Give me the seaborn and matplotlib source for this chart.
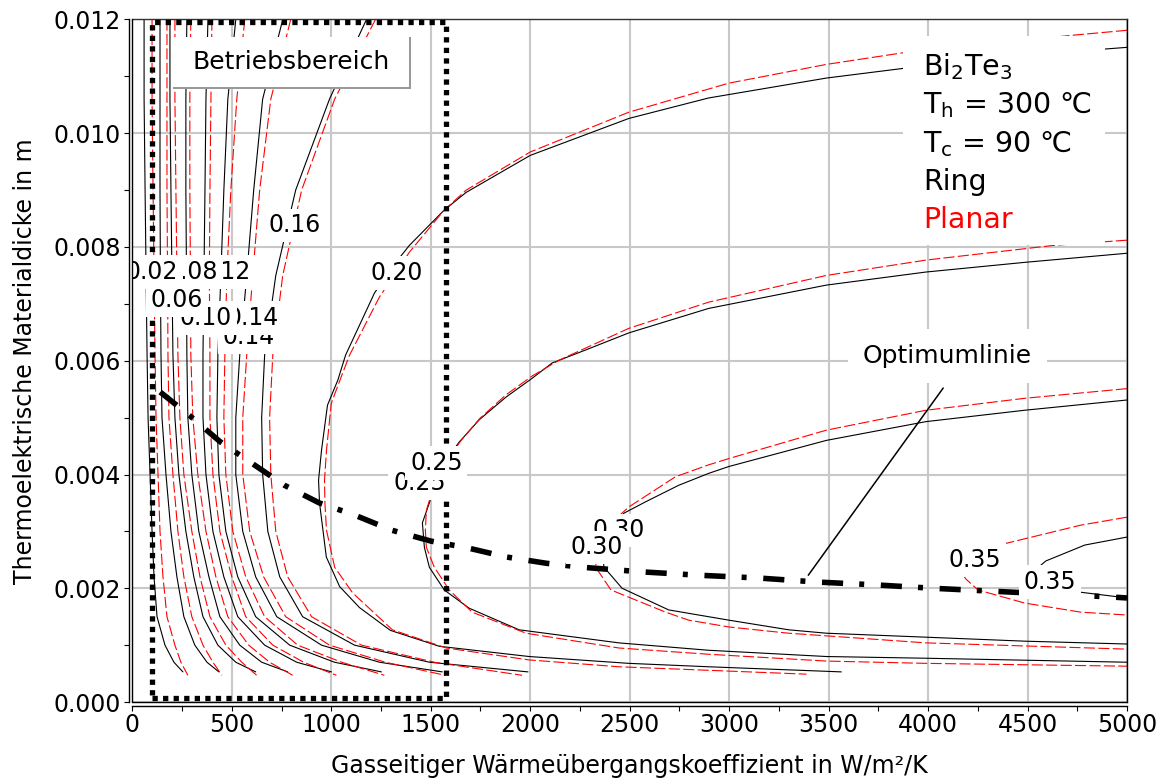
import matplotlib
matplotlib.use("Agg")
import matplotlib.pyplot as plt
from matplotlib.patches import Rectangle
from matplotlib.ticker import MultipleLocator, FormatStrFormatter
import pandas as pd
import seaborn as sns

# h: gas-side heat transfer coefficient in W/m²/K, t: thermoelectric thickness in m

# ---- low-h contour levels, sampled on common thickness rows ----
levels_low = [0.02, 0.04, 0.06, 0.08, 0.10, 0.12, 0.14, 0.16]
t_rows_ring = [0.0120, 0.0106, 0.0090, 0.0075, 0.0061, 0.0050, 0.0040,
               0.0030, 0.0022, 0.0015, 0.0010, 0.0007, 0.00053]
t_rows_planar = [0.0120, 0.0106, 0.0090, 0.0075, 0.0061, 0.0050, 0.0040,
                 0.0030, 0.0022, 0.0015, 0.0010, 0.0007, 0.00047]

ring_h_002 = [59, 59, 64, 69, 74, 79, 89, 99, 109, 124, 164, 209, 254]
ring_h_004 = [139, 139, 139, 141, 144, 149, 169, 194, 224, 259, 314, 375, 435]
ring_h_006 = [189, 189, 194, 199, 204, 214, 234, 269, 309, 355, 430, 520, 620]
ring_h_008 = [274, 269, 269, 272, 274, 279, 299, 334, 385, 440, 540, 650, 781]
ring_h_010 = [380, 370, 365, 360, 355, 355, 370, 405, 460, 530, 665, 826, 1001]
ring_h_012 = [520, 480, 460, 445, 430, 425, 435, 470, 530, 620, 791, 1016, 1252]
ring_h_014 = [756, 655, 610, 575, 540, 520, 520, 555, 620, 726, 951, 1242, 1558]
ring_h_016 = [1177, 991, 821, 721, 665, 650, 655, 681, 741, 856, 1117, 1493, 1989]

planar_h_002 = [99, 99, 104, 109, 114, 119, 129, 139, 154, 174, 214, 244, 279]
planar_h_004 = [174, 174, 174, 177, 179, 184, 204, 229, 259, 299, 355, 405, 450]
planar_h_006 = [214, 214, 219, 224, 229, 239, 259, 299, 340, 390, 470, 550, 625]
planar_h_008 = [294, 289, 289, 292, 294, 304, 329, 370, 420, 480, 585, 690, 806]
planar_h_010 = [400, 395, 390, 387, 390, 390, 405, 440, 500, 570, 706, 861, 1026]
planar_h_012 = [565, 525, 495, 475, 465, 460, 470, 505, 570, 665, 831, 1052, 1267]
planar_h_014 = [796, 696, 640, 605, 575, 555, 555, 590, 660, 771, 991, 1272, 1573]
planar_h_016 = [1222, 1017, 851, 756, 706, 690, 696, 721, 781, 901, 1152, 1518, 1959]

# ---- high levels: U-shaped curves around the optimum ----
ring_h_020 = [5000, 4888, 3875, 3489, 2897, 2496, 2000, 1678, 1568, 1393, 1302, 1217,
              1072, 1033, 981, 951, 936, 941, 975, 1042, 1142, 1297, 1543, 1995, 2496,
              2897, 3564]
ring_t_020 = [0.01151, 0.01148, 0.01114, 0.01097, 0.01062, 0.01026, 0.00961, 0.00896,
              0.00865, 0.00803, 0.00763, 0.00719, 0.00610, 0.00566, 0.00522, 0.00443,
              0.00390, 0.00350, 0.00255, 0.00203, 0.00166, 0.00126, 0.00098, 0.00080,
              0.00068, 0.00062, 0.00053]
planar_h_020 = [5000, 4718, 3865, 3489, 2998, 2496, 2000, 1678, 1568, 1393, 1242, 1092,
                1048, 1000, 976, 966, 968, 976, 1017, 1107, 1307, 1578, 1995, 2446, 3389]
planar_t_020 = [0.01181, 0.01172, 0.01141, 0.01121, 0.01088, 0.01037, 0.00967, 0.00900,
                0.00865, 0.00791, 0.00712, 0.00610, 0.00570, 0.00525, 0.00443, 0.00390,
                0.00350, 0.00302, 0.00237, 0.00192, 0.00127, 0.00095, 0.00074, 0.00062,
                0.00049]

ring_h_025 = [5000, 4486, 3990, 3489, 2897, 2496, 2279, 2110, 2009, 1878, 1743, 1643,
              1558, 1508, 1493, 1458, 1468, 1493, 1568, 1693, 1944, 2446, 2897, 3490,
              3990, 5000]
ring_t_025 = [0.00789, 0.00773, 0.00756, 0.00733, 0.00692, 0.00649, 0.00619, 0.00596,
              0.00569, 0.00536, 0.00496, 0.00457, 0.00417, 0.00369, 0.00350, 0.00315,
              0.00272, 0.00237, 0.00197, 0.00165, 0.00127, 0.00104, 0.00091, 0.00080,
              0.00077, 0.00070]
planar_h_025 = [5000, 4636, 3990, 3489, 2897, 2496, 2145, 2009, 1878, 1748, 1653, 1553,
                1498, 1478, 1473, 1478, 1518, 1593, 1708, 1979, 2446, 2897, 3490, 3990,
                5000]
planar_t_025 = [0.00812, 0.00803, 0.00777, 0.00750, 0.00703, 0.00657, 0.00601, 0.00573,
                0.00540, 0.00499, 0.00460, 0.00411, 0.00360, 0.00337, 0.00302, 0.00272,
                0.00237, 0.00197, 0.00158, 0.00121, 0.00095, 0.00084, 0.00072, 0.00068,
                0.00063]

ring_h_030 = [5000, 4486, 3990, 3489, 2998, 2897, 2746, 2580, 2471, 2386, 2361, 2371,
              2462, 2696, 2796, 2998, 3299, 3489, 3990, 4486, 5000]
ring_t_030 = [0.00531, 0.00513, 0.00493, 0.00460, 0.00414, 0.00402, 0.00381, 0.00352,
              0.00332, 0.00299, 0.00267, 0.00237, 0.00200, 0.00162, 0.00156, 0.00144,
              0.00127, 0.00121, 0.00114, 0.00107, 0.00102]
planar_h_030 = [5000, 4486, 3990, 3489, 2998, 2897, 2730, 2496, 2404, 2351, 2325, 2331,
                2406, 2681, 2796, 2998, 3299, 3990, 5000]
planar_t_030 = [0.00551, 0.00534, 0.00513, 0.00478, 0.00428, 0.00417, 0.00396, 0.00343,
                0.00314, 0.00293, 0.00267, 0.00236, 0.00197, 0.00158, 0.00144, 0.00132,
                0.00121, 0.00104, 0.00093]

ring_h_035 = [5000, 4788, 4592, 4491, 4602, 4768, 5000]
ring_t_035 = [0.00290, 0.00276, 0.00248, 0.00218, 0.00200, 0.00193, 0.00183]
planar_h_035 = [5000, 4768, 4392, 4251, 4151, 4191, 4251, 4486, 4768, 5000]
planar_t_035 = [0.00325, 0.00311, 0.00279, 0.00264, 0.00236, 0.00216, 0.00197, 0.00174,
                0.00158, 0.00153]

# ---- optimum thickness line ----
opt_h = [140, 290, 440, 600, 765, 940, 1115, 1305, 1500, 1685, 1880, 2080, 2260, 2555,
         2845, 3150, 3440, 3735, 4025, 4315, 4610, 4905, 5000]
opt_t = [0.00545, 0.00503, 0.00458, 0.00420, 0.00381, 0.00350, 0.00329, 0.00302,
         0.00283, 0.00271, 0.00255, 0.00244, 0.00237, 0.00229, 0.00223, 0.00218,
         0.00211, 0.00206, 0.00200, 0.00195, 0.00190, 0.00185, 0.00183]
leader_h = [3398, 4076]
leader_t = [0.00223, 0.00552]

# ---- operating range ----
range_h = [100, 1575, 1575, 100, 100]
range_t = [0.00007, 0.00007, 0.01195, 0.01195, 0.00007]

# ---- contour labels ----
label_level = [0.14, 0.14, 0.10, 0.06, 0.12, 0.08, 0.02, 0.16, 0.20,
               0.25, 0.25, 0.30, 0.30, 0.35, 0.35]
label_h = [586, 606, 370, 225, 466, 299, 99, 816, 1327,
           1443, 1528, 2446, 2336, 4236, 4612]
label_t = [0.00641, 0.00675, 0.00675, 0.00707, 0.00756, 0.00756, 0.00756, 0.00838,
           0.00754, 0.00385, 0.00420, 0.00302, 0.00272, 0.00250, 0.00211]

x_ticks = list(range(0, 5001, 500))
y_ticks = [0.000, 0.002, 0.004, 0.006, 0.008, 0.010, 0.012]

# ---------------------------------------------------------------
ring_low = [ring_h_002, ring_h_004, ring_h_006, ring_h_008,
            ring_h_010, ring_h_012, ring_h_014, ring_h_016]
planar_low = [planar_h_002, planar_h_004, planar_h_006, planar_h_008,
              planar_h_010, planar_h_012, planar_h_014, planar_h_016]
ring_high = {0.20: (ring_h_020, ring_t_020), 0.25: (ring_h_025, ring_t_025),
             0.30: (ring_h_030, ring_t_030), 0.35: (ring_h_035, ring_t_035)}
planar_high = {0.20: (planar_h_020, planar_t_020), 0.25: (planar_h_025, planar_t_025),
               0.30: (planar_h_030, planar_t_030), 0.35: (planar_h_035, planar_t_035)}

rows = []
for fam, low, trows, high in [("Ring", ring_low, t_rows_ring, ring_high),
                              ("Planar", planar_low, t_rows_planar, planar_high)]:
    for lvl, hs in zip(levels_low, low):
        for i, (h, t) in enumerate(zip(hs, trows)):
            rows.append((fam, lvl, i, h, t))
    for lvl, (hs, ts) in high.items():
        for i, (h, t) in enumerate(zip(hs, ts)):
            rows.append((fam, lvl, i, h, t))
df = pd.DataFrame(rows, columns=["family", "level", "order", "h", "t"])

sns.set_theme(style="ticks")
plt.rcParams["font.family"] = ["DejaVu Sans"]
plt.rcParams["axes.unicode_minus"] = False
for key in ["text.color", "axes.labelcolor", "xtick.color", "ytick.color",
            "xtick.labelcolor", "ytick.labelcolor"]:
    plt.rcParams[key] = "black"

fig = plt.figure(figsize=(11.61, 7.79), dpi=100)
ax = fig.add_axes([0.1140, 0.0988, 0.8567, 0.8762])

ax.grid(True, which="major", color="#c8c8c8", lw=1.5, zorder=0)
ax.set_axisbelow(True)

line_kw = dict(estimator=None, errorbar=None, sort=False, legend=False, ax=ax)

sns.lineplot(data=df[df.family == "Ring"], x="h", y="t", units="level",
             color="black", lw=0.8, zorder=2, **line_kw)
sns.lineplot(data=df[df.family == "Planar"], x="h", y="t", units="level",
             color="#ff0000", lw=0.8, linestyle=(0, (10, 3)), zorder=2, **line_kw)

# optimum line and its annotation leader
sns.lineplot(x=opt_h, y=opt_t, color="black", lw=4,
             linestyle=(0, (3.8, 2.9, 0.9, 3.0)), zorder=3.5, **line_kw)
sns.lineplot(x=leader_h, y=leader_t, color="black", lw=1.1, zorder=3.5, **line_kw)

# operating range frame
sns.lineplot(x=range_h, y=range_t, color="black", lw=3.8,
             linestyle=(0, (1, 1)), zorder=3, **line_kw)

# contour labels
for lvl, h, t in zip(label_level, label_h, label_t):
    ax.text(h, t, f"{lvl:.2f}", ha="center", va="center", fontsize=17,
            color="black", zorder=4, clip_on=True,
            bbox=dict(boxstyle="square,pad=0.2", fc="white", ec="none"))

ax.text(4096, 0.00609, "Optimumlinie", ha="center", va="center", fontsize=18,
        zorder=5, bbox=dict(boxstyle="square,pad=0.6", fc="white", ec="none"))

# "Betriebsbereich" tag with a grey shadow edge
ax.add_patch(Rectangle((0.0408, 0.8975), 0.2395, 0.0761, transform=ax.transAxes,
                       fc="#999999", ec="none", zorder=5))
ax.add_patch(Rectangle((0.0408, 0.9004), 0.2377, 0.0732, transform=ax.transAxes,
                       fc="white", ec="none", zorder=5.1))
ax.text(0.160, 0.937, "Betriebsbereich", transform=ax.transAxes, ha="center",
        va="center", fontsize=18, zorder=5.2)

# parameter block
ax.add_patch(Rectangle((0.775, 0.669), 0.2026, 0.3075, transform=ax.transAxes,
                       fc="white", ec="none", zorder=5))
legend_lines = [(r"Bi$_2$Te$_3$", 0.918, "black"),
                (r"T$_\mathrm{h}$ = 300 ℃", 0.862, "black"),
                (r"T$_\mathrm{c}$ = 90 ℃", 0.805, "black"),
                ("Ring", 0.750, "black"),
                ("Planar", 0.694, "#ff0000")]
for txt, y, col in legend_lines:
    ax.text(0.795, y, txt, transform=ax.transAxes, ha="left", va="baseline",
            fontsize=20.5, color=col, zorder=5.2)

ax.set_xlim(0, 5000)
ax.set_ylim(0, 0.012)
ax.set_xticks(x_ticks)
ax.set_yticks(y_ticks)
ax.xaxis.set_minor_locator(MultipleLocator(250))
ax.yaxis.set_minor_locator(MultipleLocator(0.001))
ax.yaxis.set_major_formatter(FormatStrFormatter("%.3f"))
ax.tick_params(axis="both", which="both", direction="out", length=3.5,
               width=0.8, color="black", labelcolor="black", labelsize=17, pad=2)

for side in ["left", "bottom"]:
    ax.spines[side].set_position(("outward", 2.5))
    ax.spines[side].set_color("black")
    ax.spines[side].set_linewidth(1.0)
ax.spines["right"].set_color("black")
ax.spines["right"].set_linewidth(1.0)
ax.spines["top"].set_color("#333333")
ax.spines["top"].set_linewidth(1.0)
ax.axhline(0, color="black", lw=1.0, zorder=6, clip_on=False)
ax.axvline(0, color="black", lw=1.0, zorder=6, clip_on=False)

ax.set_xlabel("Gasseitiger Wärmeübergangskoeffizient in W/m²/K", fontsize=17,
              labelpad=12, color="black")
ax.set_ylabel("Thermoelektrische Materialdicke in m", fontsize=17, labelpad=12,
              color="black")

fig.savefig("out.png", dpi=100)
